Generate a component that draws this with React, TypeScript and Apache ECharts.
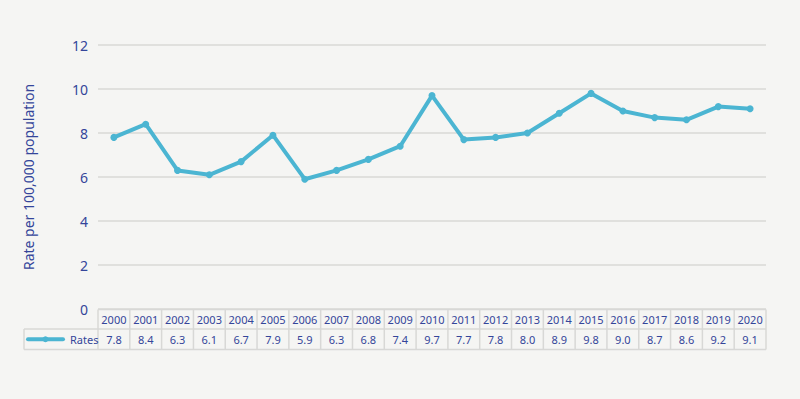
import React, { useEffect, useRef } from "react";
import * as echarts from "echarts";

const years = ["2000","2001","2002","2003","2004","2005","2006","2007","2008","2009","2010","2011","2012","2013","2014","2015","2016","2017","2018","2019","2020"];
const rates = [7.8, 8.4, 6.3, 6.1, 6.7, 7.9, 5.9, 6.3, 6.8, 7.4, 9.7, 7.7, 7.8, 8.0, 8.9, 9.8, 9.0, 8.7, 8.6, 9.2, 9.1];
const seriesName = "Rates";
const yTitle = "Rate per 100,000 population";

const W = 800;
const H = 399;
const GRID_LEFT = 98;
const GRID_RIGHT_X = 766;
const GRID_TOP = 45;
const GRID_BOTTOM_Y = 309;
const TABLE_LEFT = 24;
const ROW1 = 309.5;
const ROW2 = 329;
const ROW3 = 349.5;
const LINE_COLOR = "#4bb5d2";
const TEXT_COLOR = "#34459a";
const BORDER = "#d8d8d6";
const FONT = "'Noto Sans', sans-serif";

export default function App() {
  const ref = useRef<HTMLDivElement>(null);
  useEffect(() => {
    document.body.style.margin = "0";
    const chart = echarts.init(ref.current!, null, { renderer: "svg" });
    const n = years.length;
    const colW = (GRID_RIGHT_X - GRID_LEFT) / n;
    const graphics: any[] = [];
    const ls = { stroke: BORDER, lineWidth: 1.5 };
    graphics.push({ type: "line", shape: { x1: GRID_LEFT, y1: ROW1, x2: GRID_RIGHT_X, y2: ROW1 }, style: ls, z: 10 });
    graphics.push({ type: "line", shape: { x1: TABLE_LEFT, y1: ROW2, x2: GRID_RIGHT_X, y2: ROW2 }, style: ls, z: 10 });
    graphics.push({ type: "line", shape: { x1: TABLE_LEFT, y1: ROW3, x2: GRID_RIGHT_X, y2: ROW3 }, style: ls, z: 10 });
    graphics.push({ type: "line", shape: { x1: TABLE_LEFT, y1: ROW2, x2: TABLE_LEFT, y2: ROW3 }, style: ls, z: 10 });
    for (let i = 0; i <= n; i++) {
      const x = GRID_LEFT + i * colW;
      graphics.push({ type: "line", shape: { x1: x, y1: ROW1, x2: x, y2: ROW3 }, style: ls, z: 10 });
    }
    const ly = (ROW2 + ROW3) / 2;
    graphics.push({ type: "line", shape: { x1: 28, y1: ly, x2: 63, y2: ly }, style: { stroke: LINE_COLOR, lineWidth: 4, lineCap: "round" }, z: 11 });
    graphics.push({ type: "circle", shape: { cx: 45.5, cy: ly, r: 3 }, style: { fill: LINE_COLOR }, z: 11 });
    graphics.push({ type: "text", x: 70, y: ly, style: { text: seriesName, fill: TEXT_COLOR, font: `11px ${FONT}`, verticalAlign: "middle", align: "left" }, z: 11 });

    chart.setOption({
      animation: false,
      backgroundColor: "#f5f5f3",
      textStyle: { fontFamily: FONT },
      grid: { left: GRID_LEFT, right: W - GRID_RIGHT_X, top: GRID_TOP, bottom: H - GRID_BOTTOM_Y },
      xAxis: {
        type: "category",
        data: years,
        boundaryGap: true,
        axisLine: { show: false },
        axisTick: { show: false },
        axisLabel: {
          margin: 0.5,
          interval: 0,
          formatter: (v: string, i: number) => `{a|${v}}\n{b|${rates[i].toFixed(1)}}`,
          rich: {
            a: { color: TEXT_COLOR, fontSize: 11, lineHeight: 20, fontFamily: FONT },
            b: { color: TEXT_COLOR, fontSize: 11, lineHeight: 20, fontFamily: FONT },
          },
        },
      },
      yAxis: {
        type: "value",
        min: 0,
        max: 12,
        interval: 2,
        name: yTitle,
        nameLocation: "middle",
        nameRotate: 90,
        nameGap: 63,
        nameTextStyle: { color: TEXT_COLOR, fontSize: 14, fontFamily: FONT },
        axisLine: { show: false },
        axisTick: { show: false },
        axisLabel: { color: TEXT_COLOR, fontSize: 14, margin: 10, fontFamily: FONT, padding: [0, 0, 3, 0] },
        splitLine: { lineStyle: { color: "#d8d8d6", width: 1.5 } },
      },
      series: [
        {
          name: seriesName,
          type: "line",
          data: rates,
          symbol: "circle",
          symbolSize: 7,
          lineStyle: { color: LINE_COLOR, width: 4 },
          itemStyle: { color: LINE_COLOR },
        },
      ],
      graphic: graphics,
    });
    return () => chart.dispose();
  }, []);
  return <div ref={ref} style={{ width: W, height: H, position: "absolute", left: 0, top: 0 }} />;
}
